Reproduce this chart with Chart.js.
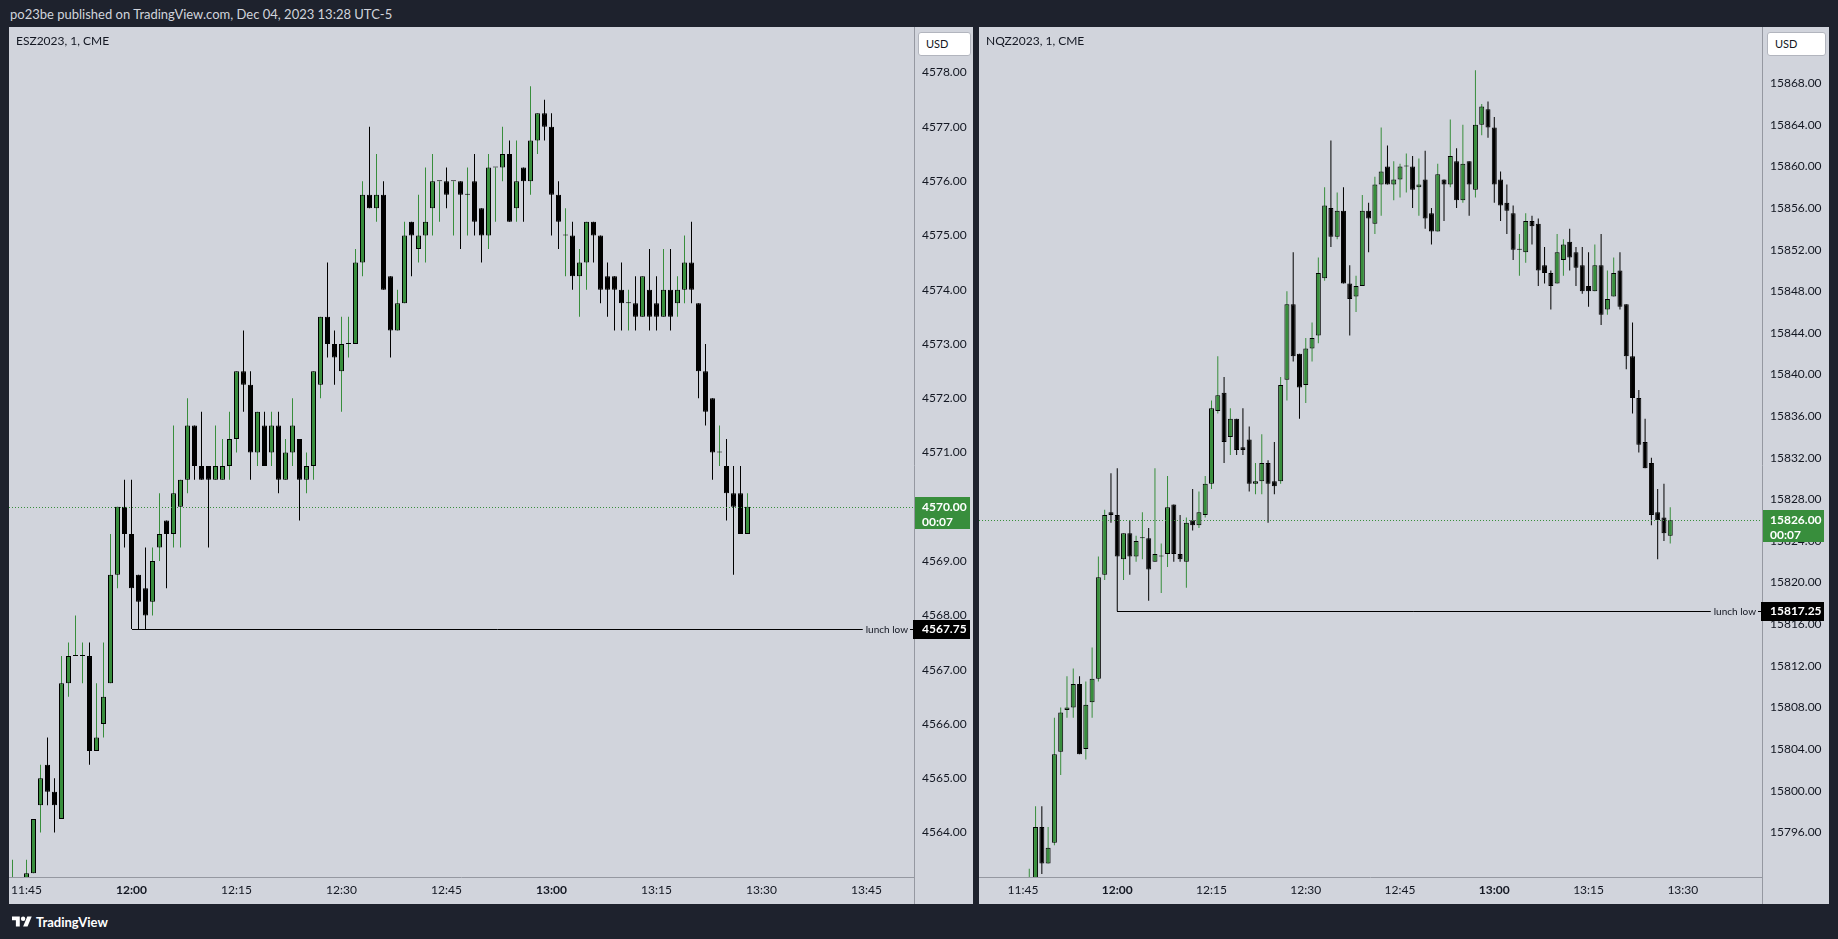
<!DOCTYPE html>
<html>
<head>
<meta charset="utf-8">
<script src="https://cdn.jsdelivr.net/npm/chart.js@4.4.0/dist/chart.umd.min.js"></script>
<style>
  html, body { margin: 0; padding: 0; }
  body { width: 1838px; height: 939px; background: #1e222d; position: relative; overflow: hidden; font-family: Lato, sans-serif; }
  #header { position: absolute; left: 10px; top: 6px; color: #d1d4dc; font-size: 13px; line-height: 16px; }
  .panel { position: absolute; top: 27px; height: 877px; background: #d1d4dc; }
  .panel canvas { position: absolute; left: 0; top: 0; }
  .sym { position: absolute; left: 7px; top: 7px; font-size: 12px; line-height: 14px; color: #131722; }
  .usd { position: absolute; top: 5px; height: 22px; background: #fff; border: 1px solid #b2b5be; border-radius: 3px;
         font-size: 11px; line-height: 22px; color: #131722; padding-left: 7px; box-sizing: content-box; }
  #footer { position: absolute; left: 12px; top: 913px; height: 18px; display: flex; align-items: center; color: #fff; }
  #footer span { font-size: 13px; font-weight: bold; margin-left: 4px; }
</style>
</head>
<body>
<div id="header">po23be published on TradingView.com, Dec 04, 2023 13:28 UTC-5</div>

<div class="panel" id="esPanel" style="left:9px;width:964px;">
  <canvas id="esChart" width="964" height="877"></canvas>
  <div class="sym">ESZ2023, 1, CME</div>
  <div class="usd" style="left:909px;width:44px;">USD</div>
</div>

<div class="panel" id="nqPanel" style="left:979px;width:850px;">
  <canvas id="nqChart" width="850" height="877"></canvas>
  <div class="sym">NQZ2023, 1, CME</div>
  <div class="usd" style="left:788px;width:50px;">USD</div>
</div>

<div id="footer">
  <svg width="20" height="16" viewBox="0 0 36 28"><path fill="#fff" d="M14 22H7V11H0V4h14v18zM28 22h-8l7.5-18h8L28 22z"/><circle fill="#fff" cx="20" cy="8" r="4"/></svg>
  <span>TradingView</span>
</div>

<script>
// ESZ2023, 1 minute bars starting 11:43
const esStart = '11:43';
const esOpen = [
  4562.50, 4563.00, 4562.75, 4563.25, 4564.50, 4565.25, 4564.75, 4564.25, 4566.75, 4567.25,
  4567.25, 4567.25, 4565.50, 4566.00, 4566.75, 4568.75, 4570.00, 4569.50, 4568.75, 4568.50,
  4568.25, 4569.25, 4569.75, 4569.50, 4570.00, 4570.50, 4571.50, 4570.75, 4570.75, 4570.50,
  4570.50, 4570.75, 4571.25, 4572.50, 4572.25, 4571.00, 4571.50, 4571.00, 4571.50, 4570.50,
  4571.00, 4571.25, 4570.50, 4570.75, 4572.25, 4573.50, 4573.00, 4572.50, 4573.00, 4573.00,
  4574.50, 4575.75, 4575.50, 4575.75, 4574.25, 4573.25, 4573.75, 4575.25, 4574.75, 4575.00,
  4575.50, 4576.00, 4576.00, 4576.00, 4576.00, 4575.75, 4576.00, 4575.50, 4575.00, 4576.25,
  4576.25, 4576.50, 4575.50, 4576.25, 4576.00, 4576.75, 4577.25, 4577.00, 4575.75, 4575.00,
  4575.00, 4574.25, 4574.50, 4575.25, 4575.00, 4574.25, 4574.25, 4574.00, 4573.75, 4573.75,
  4573.50, 4574.00, 4573.75, 4573.50, 4574.00, 4573.75, 4574.00, 4574.50, 4573.75, 4572.50,
  4572.00, 4571.00, 4570.75, 4570.25, 4570.25, 4569.50
];
const esHigh = [
  4563.50, 4563.00, 4563.50, 4564.25, 4565.25, 4565.75, 4565.00, 4567.25, 4567.50, 4568.00,
  4567.50, 4567.50, 4566.75, 4567.50, 4569.50, 4570.00, 4570.50, 4570.50, 4568.75, 4569.25,
  4569.25, 4570.25, 4569.75, 4571.50, 4570.50, 4572.00, 4571.50, 4571.75, 4570.75, 4571.50,
  4571.25, 4571.75, 4572.50, 4573.25, 4572.50, 4571.75, 4571.75, 4571.75, 4571.75, 4571.25,
  4572.00, 4571.25, 4571.00, 4572.50, 4573.50, 4574.50, 4573.25, 4573.50, 4573.50, 4574.75,
  4576.00, 4577.00, 4576.50, 4576.00, 4574.25, 4574.00, 4575.25, 4575.25, 4575.75, 4576.25,
  4576.50, 4576.00, 4576.25, 4576.00, 4576.00, 4576.25, 4576.50, 4575.50, 4576.50, 4576.25,
  4577.00, 4576.75, 4576.75, 4576.25, 4577.75, 4577.25, 4577.50, 4577.25, 4576.00, 4575.50,
  4575.25, 4574.75, 4575.25, 4575.25, 4575.00, 4574.50, 4574.25, 4574.50, 4574.00, 4574.25,
  4574.25, 4574.75, 4574.25, 4574.75, 4574.75, 4574.25, 4575.00, 4575.25, 4573.75, 4573.00,
  4572.00, 4571.50, 4571.25, 4570.75, 4570.75, 4570.25
];
const esLow = [
  4562.25, 4562.50, 4562.50, 4563.25, 4564.00, 4564.50, 4564.00, 4564.25, 4566.50, 4567.25,
  4566.75, 4565.25, 4565.50, 4565.75, 4566.75, 4568.50, 4569.25, 4567.75, 4567.75, 4567.75,
  4568.00, 4569.00, 4568.50, 4569.25, 4569.25, 4570.25, 4570.50, 4570.50, 4569.25, 4570.50,
  4570.50, 4570.50, 4571.00, 4571.75, 4570.50, 4570.75, 4570.75, 4570.75, 4570.25, 4570.50,
  4570.75, 4569.75, 4570.25, 4570.50, 4572.00, 4572.75, 4572.25, 4571.75, 4572.75, 4573.00,
  4574.25, 4575.50, 4575.25, 4574.00, 4572.75, 4573.25, 4573.75, 4574.25, 4574.50, 4574.50,
  4575.00, 4575.25, 4575.50, 4575.00, 4574.75, 4575.00, 4575.00, 4574.50, 4574.75, 4575.25,
  4576.00, 4575.25, 4575.25, 4575.25, 4575.75, 4576.50, 4576.75, 4575.00, 4574.75, 4574.25,
  4574.00, 4573.50, 4574.00, 4574.50, 4573.75, 4573.50, 4573.25, 4573.25, 4573.25, 4573.25,
  4573.50, 4573.25, 4573.25, 4573.50, 4573.25, 4573.50, 4573.75, 4573.75, 4572.00, 4571.50,
  4570.50, 4570.75, 4569.75, 4568.75, 4569.50, 4569.50
];
const esClose = [
  4563.00, 4562.75, 4563.25, 4564.25, 4565.00, 4564.75, 4564.50, 4566.75, 4567.25, 4567.25,
  4567.25, 4565.50, 4565.75, 4566.50, 4568.75, 4570.00, 4569.50, 4568.50, 4568.25, 4568.00,
  4569.00, 4569.50, 4569.50, 4570.25, 4570.50, 4571.50, 4570.75, 4570.50, 4570.50, 4570.75,
  4570.75, 4571.25, 4572.50, 4572.25, 4571.00, 4571.75, 4570.75, 4571.50, 4570.50, 4571.00,
  4571.50, 4570.50, 4570.75, 4572.50, 4573.50, 4573.00, 4572.75, 4573.00, 4573.00, 4574.50,
  4575.75, 4575.50, 4575.75, 4574.00, 4573.25, 4573.75, 4575.00, 4575.00, 4575.00, 4575.25,
  4576.00, 4576.00, 4575.75, 4576.00, 4575.75, 4575.75, 4575.25, 4575.00, 4576.25, 4576.25,
  4576.50, 4575.25, 4576.00, 4576.00, 4576.75, 4577.25, 4577.00, 4575.75, 4575.25, 4575.00,
  4574.25, 4574.50, 4575.25, 4575.00, 4574.00, 4574.00, 4574.00, 4573.75, 4573.75, 4573.50,
  4574.25, 4573.50, 4573.50, 4574.00, 4573.50, 4574.00, 4574.50, 4574.00, 4572.50, 4571.75,
  4571.00, 4571.00, 4570.25, 4570.00, 4569.50, 4570.00
];
const esTicks = ['11:45', '12:00', '12:15', '12:30', '12:45', '13:00', '13:15', '13:30', '13:45'];
const esLunchLow = 4567.75;

// NQZ2023, 1 minute bars starting 11:44
const nqStart = '11:44';
const nqOpen = [
  15788.00, 15789.50, 15790.50, 15791.50, 15796.50, 15793.00, 15795.00, 15803.75, 15807.75, 15808.00,
  15810.25, 15804.00, 15808.50, 15810.75, 15820.75, 15826.75, 15826.50, 15822.25, 15824.75, 15822.50,
  15824.25, 15824.25, 15822.00, 15822.50, 15822.75, 15827.50, 15822.75, 15822.00, 15826.00, 15825.50,
  15826.50, 15829.50, 15836.50, 15838.25, 15834.00, 15835.75, 15833.00, 15833.75, 15829.50, 15829.75,
  15831.50, 15829.75, 15829.75, 15839.50, 15846.75, 15842.00, 15839.00, 15842.50, 15843.75, 15849.25,
  15856.00, 15853.25, 15855.75, 15848.75, 15847.50, 15848.50, 15855.75, 15854.50, 15858.25, 15860.00,
  15858.25, 15858.75, 15860.00, 15860.00, 15858.00, 15858.75, 15855.50, 15853.75, 15858.75, 15858.25,
  15860.50, 15856.75, 15860.50, 15857.75, 15864.00, 15865.50, 15863.75, 15858.75, 15856.50, 15855.50,
  15852.00, 15851.75, 15854.75, 15854.50, 15850.50, 15849.75, 15848.75, 15851.00, 15852.75, 15851.75,
  15850.50, 15848.50, 15848.00, 15850.50, 15846.25, 15847.50, 15850.00, 15846.75, 15841.75, 15837.75,
  15833.50, 15831.50, 15826.75, 15826.25, 15824.50
];
const nqHigh = [
  15790.00, 15791.50, 15792.50, 15798.50, 15798.50, 15796.50, 15807.00, 15808.00, 15811.00, 15811.75,
  15811.00, 15810.50, 15813.75, 15822.50, 15827.00, 15830.50, 15831.00, 15824.75, 15826.00, 15824.50,
  15826.75, 15825.25, 15831.00, 15823.75, 15830.25, 15827.50, 15826.50, 15826.25, 15829.00, 15828.75,
  15830.25, 15837.50, 15841.75, 15839.75, 15836.75, 15835.75, 15836.75, 15835.00, 15831.50, 15834.25,
  15831.75, 15833.50, 15839.75, 15848.00, 15851.75, 15842.00, 15843.50, 15845.00, 15851.25, 15858.00,
  15862.50, 15857.50, 15858.00, 15850.50, 15849.50, 15857.25, 15856.50, 15859.00, 15863.75, 15862.00,
  15860.50, 15860.25, 15861.25, 15861.00, 15860.75, 15861.50, 15856.00, 15860.25, 15858.75, 15864.50,
  15861.75, 15864.00, 15860.50, 15869.25, 15866.00, 15866.25, 15864.75, 15859.50, 15858.25, 15856.25,
  15853.50, 15855.50, 15855.25, 15855.00, 15852.25, 15850.00, 15853.50, 15853.00, 15854.00, 15852.25,
  15852.25, 15851.75, 15852.50, 15853.50, 15850.00, 15851.25, 15851.75, 15846.75, 15845.00, 15838.50,
  15835.75, 15832.00, 15829.00, 15829.50, 15827.25
];
const nqLow = [
  15787.00, 15788.50, 15790.00, 15791.00, 15792.00, 15793.00, 15794.75, 15801.50, 15807.00, 15807.00,
  15803.50, 15803.00, 15807.00, 15810.50, 15820.25, 15825.75, 15817.25, 15820.25, 15820.75, 15822.00,
  15822.25, 15818.25, 15822.00, 15819.00, 15821.50, 15822.00, 15822.00, 15819.50, 15825.00, 15825.25,
  15826.25, 15829.00, 15836.25, 15831.50, 15832.25, 15832.25, 15832.25, 15828.75, 15828.50, 15828.50,
  15825.75, 15828.50, 15829.50, 15837.50, 15841.25, 15835.75, 15837.25, 15841.25, 15843.00, 15849.00,
  15852.25, 15853.00, 15848.75, 15843.75, 15846.00, 15848.50, 15851.75, 15853.50, 15855.25, 15858.25,
  15856.75, 15857.00, 15857.50, 15856.00, 15855.25, 15854.00, 15852.50, 15853.75, 15854.75, 15858.00,
  15856.00, 15856.50, 15855.25, 15857.00, 15863.00, 15862.75, 15856.50, 15854.75, 15853.50, 15851.00,
  15849.50, 15850.75, 15852.50, 15848.50, 15848.75, 15846.25, 15848.75, 15849.50, 15850.00, 15848.50,
  15847.75, 15846.50, 15848.00, 15844.75, 15845.75, 15847.50, 15846.25, 15840.50, 15836.25, 15832.50,
  15831.00, 15825.50, 15822.25, 15824.00, 15823.75
];
const nqClose = [
  15789.50, 15790.50, 15791.50, 15796.50, 15793.00, 15794.50, 15803.50, 15807.50, 15808.00, 15810.25,
  15803.50, 15808.25, 15810.75, 15820.50, 15826.50, 15826.50, 15822.50, 15824.75, 15822.50, 15824.00,
  15824.25, 15821.25, 15822.75, 15822.50, 15827.25, 15822.75, 15822.25, 15825.75, 15825.50, 15826.75,
  15829.50, 15836.75, 15838.00, 15833.50, 15835.75, 15832.75, 15832.75, 15829.50, 15829.75, 15831.50,
  15829.50, 15829.25, 15839.00, 15846.75, 15841.75, 15838.75, 15842.50, 15843.50, 15849.75, 15856.25,
  15853.25, 15855.75, 15848.75, 15847.25, 15848.50, 15855.75, 15855.00, 15858.25, 15859.50, 15858.25,
  15858.75, 15860.00, 15860.00, 15857.75, 15858.25, 15855.00, 15853.75, 15859.25, 15858.25, 15861.00,
  15856.75, 15860.25, 15858.25, 15864.00, 15865.75, 15863.75, 15858.25, 15856.25, 15855.75, 15852.00,
  15852.00, 15854.75, 15854.25, 15850.00, 15849.75, 15848.50, 15851.75, 15852.50, 15851.25, 15850.25,
  15848.00, 15848.00, 15850.50, 15845.75, 15847.25, 15849.75, 15846.50, 15841.75, 15837.75, 15833.25,
  15831.00, 15826.50, 15826.00, 15824.75, 15826.00
];
const nqTicks = ['11:45', '12:00', '12:15', '12:30', '12:45', '13:00', '13:15', '13:30'];
const nqLunchLow = 15817.25;

const GREEN = '#388e3c';
const BLACK = '#000000';
const TEXT = '#131722';
const LINE = '#9598a1';

Chart.defaults.font.family = 'Lato, sans-serif';

const toMin = s => { const p = s.split(':').map(Number); return p[0] * 60 + p[1]; };
const fmtMin = v => Math.floor(v / 60) + ':' + String(Math.round(v % 60)).padStart(2, '0');

// price lines, lunch low level and the axis labels TradingView paints
const tvOverlay = {
  id: 'tvOverlay',
  afterDatasetsDraw(chart, args, o) {
    const {ctx, chartArea: a} = chart;
    const xs = chart.scales.x, ys = chart.scales.y;
    ctx.save();
    const yl = Math.round(ys.getPixelForValue(o.last)) + 0.5;
    ctx.strokeStyle = GREEN;
    ctx.lineWidth = 1;
    ctx.setLineDash([1, 2]);
    ctx.beginPath(); ctx.moveTo(a.left, yl); ctx.lineTo(a.right, yl); ctx.stroke();

    ctx.setLineDash([]);
    const yh = Math.round(ys.getPixelForValue(o.lunch)) + 0.5;
    const x0 = Math.round(xs.getPixelForValue(toMin(o.lunchFrom)));
    ctx.font = '10px Lato, sans-serif';
    const tw = ctx.measureText('lunch low').width;
    const tx = a.right - 6 - tw;
    ctx.strokeStyle = BLACK;
    ctx.beginPath();
    ctx.moveTo(x0, yh); ctx.lineTo(tx - 3, yh);
    ctx.moveTo(a.right - 4, yh); ctx.lineTo(a.right, yh);
    ctx.stroke();
    ctx.fillStyle = TEXT;
    ctx.textBaseline = 'middle';
    ctx.textAlign = 'left';
    ctx.fillText('lunch low', tx, yh);
    ctx.restore();
  },
  afterDraw(chart, args, o) {
    const {ctx, chartArea: a} = chart;
    const ys = chart.scales.y;
    ctx.save();
    ctx.strokeStyle = LINE;
    ctx.lineWidth = 1;
    ctx.beginPath();
    ctx.moveTo(a.right + 0.5, 0); ctx.lineTo(a.right + 0.5, chart.height);
    ctx.moveTo(0, a.bottom + 0.5); ctx.lineTo(a.right, a.bottom + 0.5);
    ctx.stroke();

    ctx.textBaseline = 'middle';
    ctx.textAlign = 'left';
    // last price + countdown
    const yl = Math.round(ys.getPixelForValue(o.last));
    ctx.fillStyle = GREEN;
    ctx.fillRect(a.right + 1, yl - 10, o.boxW, 32);
    ctx.fillStyle = '#ffffff';
    ctx.font = 'bold 12px Lato, sans-serif';
    ctx.fillText(o.last.toFixed(2), a.right + 8, yl);
    ctx.fillText(o.countdown, a.right + 8, yl + 15);
    // lunch low level
    const yh = Math.round(ys.getPixelForValue(o.lunch));
    ctx.fillStyle = BLACK;
    ctx.fillRect(a.right - 1, yh - 9, o.boxW + 2, 19);
    ctx.fillStyle = '#ffffff';
    ctx.fillText(o.lunch.toFixed(2), a.right + 8, yh + 0.5);
    ctx.restore();
  }
};

function candleChart(id, start, open, high, low, close, cfg) {
  const t0 = toMin(start);
  const bodyColors = close.map((c, i) => c > open[i] ? GREEN : BLACK);
  const wickColors = close.map((c, i) => c >= open[i] ? GREEN : BLACK);
  return new Chart(document.getElementById(id), {
    type: 'bar',
    data: {
      datasets: [
        {
          label: 'body',
          data: open.map((o, i) => ({x: t0 + i, y: [o, close[i]]})),
          backgroundColor: bodyColors,
          borderColor: BLACK,
          borderWidth: 1,
          borderSkipped: false,
          barThickness: 5,
          minBarLength: 1,
          inflateAmount: 0,
          grouped: false,
          order: 0
        },
        {
          label: 'wick',
          data: low.map((l, i) => ({x: t0 + i, y: [l, high[i]]})),
          backgroundColor: wickColors,
          borderWidth: 0,
          barThickness: 1,
          inflateAmount: 0,
          grouped: false,
          order: 1
        }
      ]
    },
    options: {
      responsive: false,
      animation: false,
      events: [],
      layout: { padding: 0 },
      plugins: {
        legend: { display: false },
        tooltip: { enabled: false },
        tvOverlay: cfg.overlay
      },
      scales: {
        x: {
          type: 'linear',
          min: cfg.xMin,
          max: cfg.xMax,
          offset: false,
          grid: { display: false, drawTicks: false },
          border: { display: false },
          afterBuildTicks: s => { s.ticks = cfg.ticks.map(t => ({value: toMin(t)})); },
          afterFit: s => { s.height = 27; s.paddingLeft = 0; s.paddingRight = 0; },
          ticks: {
            autoSkip: false,
            maxRotation: 0,
            padding: 6,
            color: TEXT,
            font: c => ({ size: 12, weight: c.tick && c.tick.value % 60 === 0 ? 'bold' : 'normal' }),
            callback: v => fmtMin(v)
          }
        },
        y: {
          position: 'right',
          min: cfg.yMin,
          max: cfg.yMax,
          grid: { display: false, drawTicks: false },
          border: { display: false },
          afterFit: s => { s.width = cfg.axisW; s.paddingTop = 0; s.paddingBottom = 0; },
          afterBuildTicks: s => { s.ticks = s.ticks.filter(t => t.value > cfg.yMin + cfg.step / 3 && t.value < cfg.yMax - cfg.step / 3); },
          ticks: {
            stepSize: cfg.step,
            maxTicksLimit: 100,
            includeBounds: false,
            padding: 8,
            color: TEXT,
            font: { size: 12 },
            callback: v => v.toFixed(2)
          }
        }
      }
    },
    plugins: [tvOverlay]
  });
}

candleChart('esChart', esStart, esOpen, esHigh, esLow, esClose, {
  xMin: 702.5, xMax: 702.5 + 905 / 7,
  yMin: 4563.18, yMax: 4578.84, step: 1, axisW: 59,
  ticks: esTicks,
  overlay: { last: esClose[esClose.length - 1], lunch: esLunchLow, lunchFrom: '12:00', countdown: '00:07', boxW: 55 }
});

candleChart('nqChart', nqStart, nqOpen, nqHigh, nqLow, nqClose, {
  xMin: 698.0, xMax: 698.0 + 783 / 6.284,
  yMin: 15791.7, yMax: 15873.4, step: 4, axisW: 67,
  ticks: nqTicks,
  overlay: { last: nqClose[nqClose.length - 1], lunch: nqLunchLow, lunchFrom: '12:00', countdown: '00:07', boxW: 61 }
});
</script>
</body>
</html>
